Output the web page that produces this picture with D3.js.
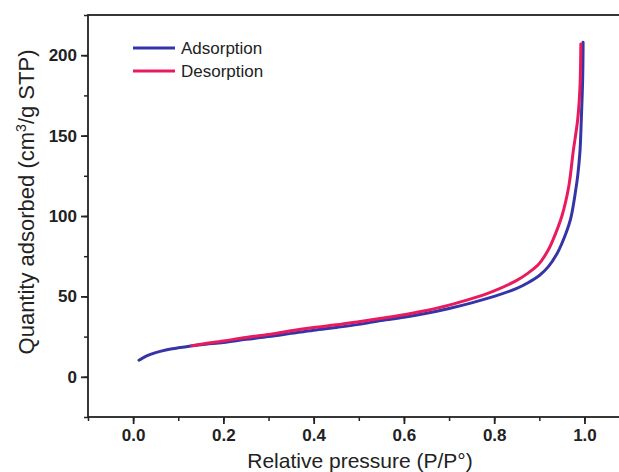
<!DOCTYPE html>
<html>
<head>
<meta charset="utf-8">
<script src="https://cdn.jsdelivr.net/npm/d3@7"></script>
<style>
    body { margin: 0; background: #fff; }
    svg { display: block; font-family: 'Liberation Sans', Arial, sans-serif; }
</style>
</head>
<body>
<svg id='iso-svg'></svg>
<script>
// relative pressure (P/P0) and quantity adsorbed (cm3/g STP)
const adsP = [0.013, 0.03, 0.05, 0.075, 0.1, 0.15, 0.2, 0.25, 0.3, 0.35, 0.4, 0.45, 0.5, 0.55, 0.6, 0.65, 0.7, 0.75, 0.8, 0.85, 0.875, 0.9, 0.92, 0.94, 0.95, 0.96, 0.97, 0.98, 0.985, 0.99, 0.993, 0.996, 0.997]
const adsQ = [10.3, 13, 15, 16.8, 18, 20, 21.4, 23.3, 25, 27, 29, 30.7, 32.6, 35, 37, 39.5, 42.5, 46, 50, 55, 58.5, 63, 68.5, 77, 83, 90, 99, 115, 125, 140, 160, 185, 208]

const desP = [0.13, 0.15, 0.2, 0.25, 0.3, 0.35, 0.4, 0.45, 0.5, 0.55, 0.6, 0.65, 0.7, 0.75, 0.8, 0.85, 0.875, 0.9, 0.92, 0.93, 0.95, 0.965, 0.975, 0.985, 0.99, 0.992]
const desQ = [19.3, 20.3, 22.3, 24.5, 26.3, 28.6, 30.6, 32.3, 34.3, 36.4, 38.6, 41.2, 44.6, 48.6, 53.5, 60, 64.5, 70.5, 79, 85, 100, 118, 140, 160, 180, 207]

const xTicks = [0.0, 0.2, 0.4, 0.6, 0.8, 1.0]
const yTicks = [0, 50, 100, 150, 200]

const series = [
    { name: 'Adsorption', color: '#3535a8', p: adsP, q: adsQ },
    { name: 'Desorption', color: '#ea1a5e', p: desP, q: desQ }
]

const width = 619
const height = 472

const svg = d3.select('#iso-svg')
    .attr('width', width)
    .attr('height', height)

const x = d3.scaleLinear()
    .domain([-0.1, 1.1])
    .range([88, 629.6])

const y = d3.scaleLinear()
    .domain([-25, 225])
    .range([417, 15])

// frame (right side falls outside the picture)
svg.append('rect')
    .attr('x', x(-0.1))
    .attr('y', y(225))
    .attr('width', x(1.1) - x(-0.1))
    .attr('height', y(-25) - y(225))
    .attr('fill', 'none')
    .attr('stroke', '#222')
    .attr('stroke-width', 1.8)

// minor ticks
svg.append('g')
    .attr('transform', `translate(0,${y(-25)})`)
    .call(d3.axisBottom(x).tickValues(d3.range(-0.1, 1.11, 0.1)).tickSize(4).tickFormat(''))
    .call(g => g.select('.domain').remove())
    .call(g => g.selectAll('line').attr('stroke', '#222').attr('stroke-width', 1.5))

svg.append('g')
    .attr('transform', `translate(${x(-0.1)},0)`)
    .call(d3.axisLeft(y).tickValues(d3.range(-25, 226, 25)).tickSize(4).tickFormat(''))
    .call(g => g.select('.domain').remove())
    .call(g => g.selectAll('line').attr('stroke', '#222').attr('stroke-width', 1.5))

// major ticks and labels
svg.append('g')
    .attr('transform', `translate(0,${y(-25)})`)
    .call(d3.axisBottom(x).tickValues(xTicks).tickSize(7).tickPadding(5).tickFormat(d3.format('.1f')))
    .call(g => g.select('.domain').remove())
    .call(g => g.selectAll('line').attr('stroke', '#222').attr('stroke-width', 1.8))
    .call(g => g.selectAll('text')
        .attr('fill', '#222')
        .attr('font-size', '17px')
        .attr('font-weight', 'bold')
        .attr('font-family', 'Liberation Sans, Arial, sans-serif'))

svg.append('g')
    .attr('transform', `translate(${x(-0.1)},0)`)
    .call(d3.axisLeft(y).tickValues(yTicks).tickSize(7).tickPadding(4))
    .call(g => g.select('.domain').remove())
    .call(g => g.selectAll('line').attr('stroke', '#222').attr('stroke-width', 1.8))
    .call(g => g.selectAll('text')
        .attr('fill', '#222')
        .attr('font-size', '17px')
        .attr('font-weight', 'bold')
        .attr('font-family', 'Liberation Sans, Arial, sans-serif'))

// curves
const line = d3.line()
    .x(d => x(d[0]))
    .y(d => y(d[1]))
    .curve(d3.curveCatmullRom.alpha(0.5))

series.forEach(s => {
    svg.append('path')
        .datum(s.p.map((p, i) => [p, s.q[i]]))
        .attr('fill', 'none')
        .attr('stroke', s.color)
        .attr('stroke-width', 3)
        .attr('stroke-linejoin', 'round')
        .attr('stroke-linecap', 'round')
        .attr('d', line)
})

// legend
const legend = svg.append('g')
    .selectAll('g')
    .data(series)
    .join('g')
    .attr('transform', (d, i) => `translate(133,${48 + i * 23})`)

legend.append('line')
    .attr('x1', 0)
    .attr('x2', 42)
    .attr('stroke', d => d.color)
    .attr('stroke-width', 3)

legend.append('text')
    .attr('x', 48)
    .attr('dy', '0.35em')
    .attr('font-size', '17px')
    .attr('fill', '#222')
    .text(d => d.name)

// axis titles
svg.append('text')
    .attr('x', 360)
    .attr('y', 468)
    .attr('text-anchor', 'middle')
    .attr('font-size', '21px')
    .attr('fill', '#222')
    .text('Relative pressure (P/P°)')

const yTitle = svg.append('text')
    .attr('transform', 'rotate(-90)')
    .attr('x', -202)
    .attr('y', 34)
    .attr('text-anchor', 'middle')
    .attr('font-size', '22px')
    .attr('fill', '#222')

yTitle.append('tspan').text('Quantity adsorbed (cm')
yTitle.append('tspan').attr('font-size', '14px').attr('dy', '-8').text('3')
yTitle.append('tspan').attr('dy', '8').text('/g STP)')
</script>
</body>
</html>
